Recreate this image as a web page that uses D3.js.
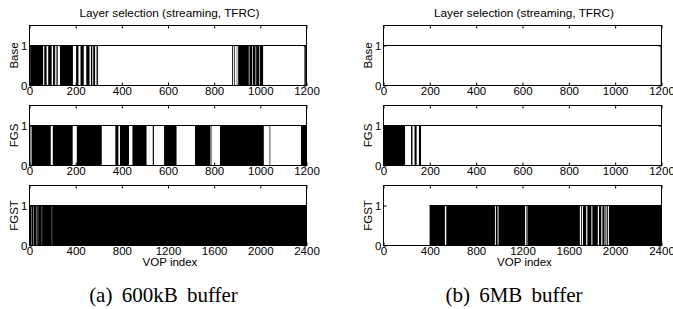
<!DOCTYPE html>
<html>
<head>
<meta charset="utf-8">
<script src="https://cdn.jsdelivr.net/npm/d3@7"></script>
<style>
  body { margin: 0; background: #fff; }
  svg text { font-family: "Liberation Sans", Arial, sans-serif; font-size: 11.5px; fill: #000; }
  svg text.title { font-size: 11.8px; }
  svg text.caption { font-family: "Liberation Serif", "Times New Roman", serif; font-size: 21px; word-spacing: 4px; }
</style>
</head>
<body>
<svg id="chart" width="673" height="309"></svg>
<script>
/**** data ****/

var layerNames = ["Base", "FGS", "FGST"];
var domainMax = [1200, 1200, 2400];
var ticksShort = [0, 200, 400, 600, 800, 1000, 1200];
var ticksLong = [0, 400, 800, 1200, 1600, 2000, 2400];
var yTicks = [0, 1];
var titleText = "Layer selection (streaming, TFRC)";
var xLabelText = "VOP index";
var captions = ["(a) 600kB buffer", "(b) 6MB buffer"];

// VOP ranges where the layer flips on/off every frame (shows up solid black)
var baseA = [[3, 59], [64, 74], [81, 96], [102, 110], [114, 117], [120, 123], [132, 188],
             [202, 212], [221, 235], [246, 260], [266, 272], [276, 284], [288, 290], [293, 297],
             [878, 882], [886, 889], [898, 900], [904, 950], [953, 965], [968, 979], [982, 994],
             [997, 1012], [1191, 1197]];
var fgsA = [[0, 2], [4, 6], [9, 92], [101, 187], [205, 313], [372, 385], [392, 431], [446, 507],
            [534, 539], [583, 637], [717, 784], [788, 790], [825, 1015], [1040, 1043], [1176, 1200]];
var fgstA = [[0, 14], [17, 34], [37, 57], [60, 72], [75, 106], [109, 193], [196, 2400]];

var baseB = [[1196, 1200]];
var fgsB = [[0, 93], [119, 125], [134, 143], [153, 162]];
var fgstB = [[398, 530], [542, 962], [970, 985], [993, 1222], [1230, 1235], [1242, 1695],
             [1705, 1712], [1722, 1750], [1760, 1795], [1803, 1850], [1860, 1880], [1890, 1908],
             [1916, 1924], [1931, 1938], [1946, 2400]];

// ranges where the layer is not sent at all (value 0); everywhere else it sits at 1
var offA = [[], [], []];
var offB = [[], [], [[0, 398]]];

/**** layout ****/
var width = 673, height = 309;
var columns = [
  { left: 29.5, right: 306.5, runs: [baseA, fgsA, fgstA], off: offA, caption: captions[0], capX: 163.5 },
  { left: 383.5, right: 661.5, runs: [baseB, fgsB, fgstB], off: offB, caption: captions[1], capX: 514 }
];
var rowTops = [25.5, 105.5, 185.5];
var rowHeight = 60;

var svg = d3.select("#chart");

// complement of the "off" ranges -> stretches at level 1
function onStretches(off, max) {
  var segs = [], s = 0;
  off.forEach(function(z) {
    if (z[0] > s) segs.push([s, z[0]]);
    s = z[1];
  });
  if (s < max) segs.push([s, max]);
  return segs;
}

columns.forEach(function(col) {
  var cx = (col.left + col.right) / 2;

  svg.append("text")
      .attr("class", "title")
      .attr("x", cx + 1.5)
      .attr("y", 17)
      .attr("text-anchor", "middle")
      .text(titleText);

  layerNames.forEach(function(name, i) {
    var top = rowTops[i], bottom = top + rowHeight;
    var x = d3.scaleLinear().domain([0, domainMax[i]]).range([col.left, col.right]);
    var y = d3.scaleLinear().domain([0, 1.5]).range([bottom, top]);
    var ticks = domainMax[i] > 1200 ? ticksLong : ticksShort;
    var g = svg.append("g");

    // dense toggling
    g.selectAll("rect.run")
      .data(col.runs[i])
      .enter().append("rect")
        .attr("class", "run")
        .attr("x", function(d) { return x(d[0]); })
        .attr("width", function(d) { return Math.max(0.4, x(d[1]) - x(d[0])); })
        .attr("y", y(1))
        .attr("height", y(0) - y(1))
        .attr("fill", "#000");

    // steady levels
    g.selectAll("line.on")
      .data(onStretches(col.off[i], domainMax[i]))
      .enter().append("line")
        .attr("x1", function(d) { return x(d[0]); })
        .attr("x2", function(d) { return x(d[1]); })
        .attr("y1", y(1)).attr("y2", y(1))
        .attr("stroke", "#000").attr("stroke-width", 1);

    // axes, ticks pointing inward on all four sides
    var ax = g.append("g").attr("transform", "translate(0," + bottom + ")")
        .call(d3.axisBottom(x).tickValues(ticks).tickSize(-3).tickPadding(1.5).tickFormat(d3.format("d")));
    var axTop = g.append("g").attr("transform", "translate(0," + top + ")")
        .call(d3.axisTop(x).tickValues(ticks).tickSize(-3).tickFormat(""));
    var ayL = g.append("g").attr("transform", "translate(" + col.left + ",0)")
        .call(d3.axisLeft(y).tickValues(yTicks).tickSize(-3).tickPadding(2).tickFormat(d3.format("d")));
    var ayR = g.append("g").attr("transform", "translate(" + col.right + ",0)")
        .call(d3.axisRight(y).tickValues(yTicks).tickSize(-3).tickFormat(""));
    [ax, axTop, ayL, ayR].forEach(function(a) {
      a.attr("font-size", null).attr("font-family", null);
      a.select(".domain").remove();
      a.selectAll(".tick line").attr("stroke", "#000");
    });

    g.append("rect")
      .attr("x", col.left).attr("y", top)
      .attr("width", col.right - col.left).attr("height", rowHeight)
      .attr("fill", "none").attr("stroke", "#000").attr("stroke-width", 1);

    g.append("text")
      .attr("transform", "translate(" + (col.left - 11.5) + "," + (top + rowHeight / 2) + ") rotate(-90)")
      .attr("text-anchor", "middle")
      .text(name);
  });

  svg.append("text")
      .attr("x", cx + 2)
      .attr("y", 266)
      .attr("text-anchor", "middle")
      .text(xLabelText);

  svg.append("text")
      .attr("class", "caption")
      .attr("x", col.capX)
      .attr("y", 302)
      .attr("text-anchor", "middle")
      .text(col.caption);
});
</script>
</body>
</html>
